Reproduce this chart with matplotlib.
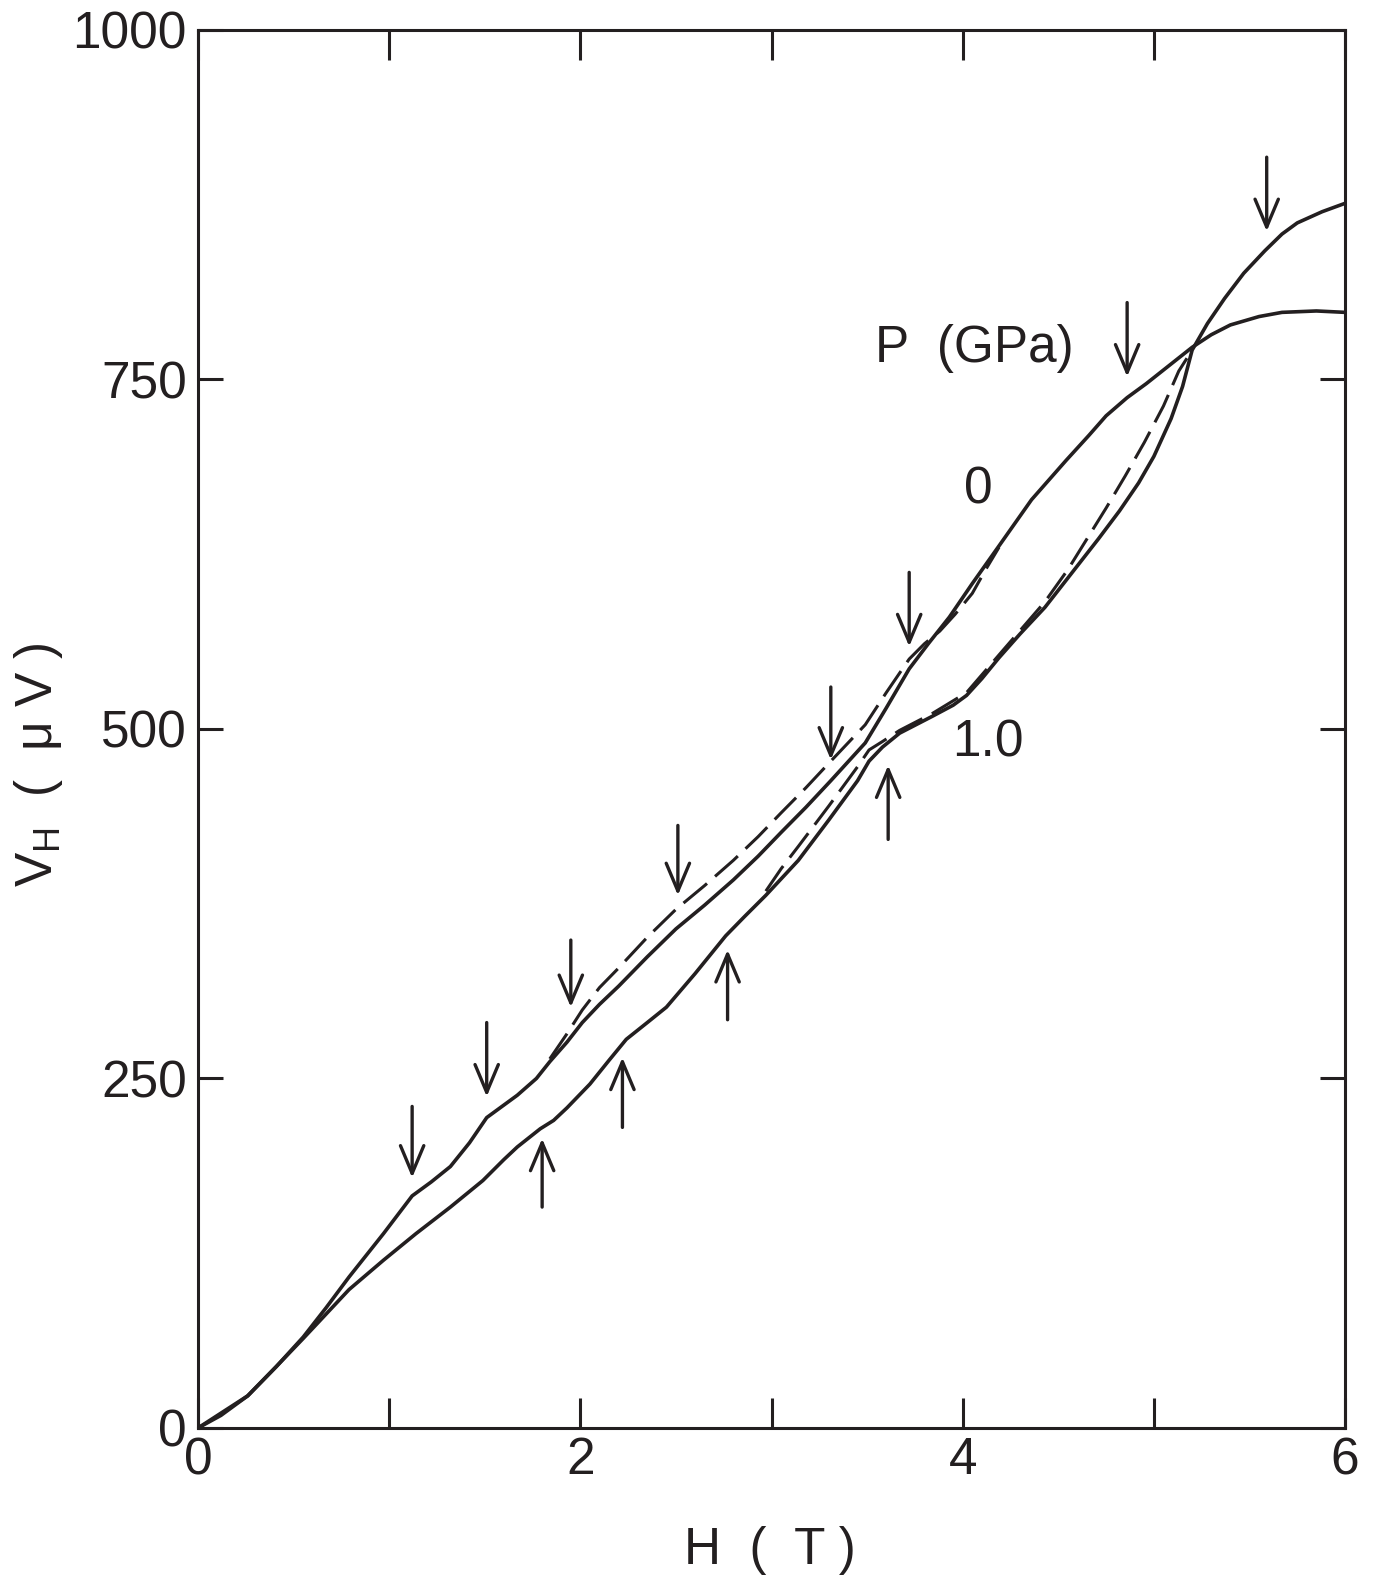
import matplotlib
matplotlib.use("Agg")
import matplotlib.pyplot as plt

plt.rcParams['font.family'] = ['Liberation Sans', 'DejaVu Sans']
plt.rcParams['mathtext.fontset'] = 'custom'
plt.rcParams['mathtext.rm'] = 'Liberation Sans'

INK = '#231f20'

# ---- data (H in tesla, V_H in microvolts) ----
H_0GPa = [0, 0.12, 0.26, 0.41, 0.55, 0.67, 0.79, 0.97, 1.12, 1.22, 1.32, 1.42, 1.51, 1.60,
          1.67, 1.77, 1.84, 1.93, 2.01, 2.10, 2.20, 2.35, 2.50, 2.65, 2.80, 2.93, 3.05, 3.18,
          3.31, 3.49, 3.60, 3.72, 3.82, 3.93, 4.05, 4.19, 4.36, 4.54, 4.66, 4.75, 4.86, 4.96,
          5.08, 5.20, 5.30, 5.40, 5.55, 5.67, 5.85, 6.0]
V_0GPa = [0, 9, 23, 44, 65, 86, 108, 139, 166, 176, 187, 204, 222, 231,
          238, 250, 262, 276, 290, 303, 316, 337, 357, 374, 392, 409, 426, 444,
          463, 490, 515, 543, 561, 580, 604, 631, 664, 692, 710, 724, 737, 747,
          760, 773, 782, 789, 795, 798, 799, 798]

H_1GPa = [0, 0.26, 0.41, 0.55, 0.79, 0.97, 1.14, 1.32, 1.49, 1.60, 1.67, 1.79, 1.86, 1.93,
          2.05, 2.15, 2.24, 2.35, 2.45, 2.60, 2.76, 2.86, 2.97, 3.14, 3.30, 3.45, 3.51, 3.58,
          3.67, 3.84, 3.95, 4.02, 4.10, 4.19, 4.30, 4.43, 4.59, 4.71, 4.82, 4.92, 5.00, 5.09,
          5.15, 5.20, 5.28, 5.37, 5.47, 5.58, 5.67, 5.75, 5.88, 6.0]
V_1GPa = [0, 23, 44, 64, 99, 120, 139, 158, 177, 192, 201, 214, 220, 229,
          246, 263, 278, 290, 301, 325, 352, 366, 381, 406, 435, 463, 477, 487,
          497, 509, 517, 524, 536, 551, 568, 587, 615, 636, 656, 676, 695, 722,
          745, 771, 790, 808, 826, 842, 854, 862, 870, 876]

H_0GPa_dash = [1.84, 1.93, 2.01, 2.10, 2.20, 2.35, 2.50, 2.65, 2.80, 2.93, 3.05, 3.18, 3.31,
               3.49, 3.60, 3.72, 3.80, 3.88, 3.96, 4.05, 4.12, 4.19]
V_0GPa_dash = [264, 282, 299, 315, 329, 351, 371, 388, 406, 423, 440, 458, 477,
               503, 526, 550, 561, 570, 582, 597, 614, 630]

H_1GPa_dash = [2.97, 3.05, 3.14, 3.30, 3.45, 3.51, 3.58, 3.67, 3.84, 4.02, 4.19, 4.43, 4.55,
               4.65, 4.75, 4.85, 4.95, 5.05, 5.13, 5.20]
V_1GPa_dash = [384, 400, 416, 445, 473, 485, 491, 499, 511, 526, 553, 591, 614,
               636, 658, 681, 705, 731, 756, 771]

# arrows: field position, tail value, tip value
down_H = [1.12, 1.51, 1.95, 2.51, 3.31, 3.72, 4.86, 5.59]
down_tail = [230, 290, 349, 431, 530, 612, 805, 909]
down_tip = [179, 237, 301, 381, 478, 559, 752, 856]

up_H = [1.80, 2.22, 2.77, 3.61]
up_tail = [158, 215, 292, 421]
up_tip = [207, 265, 342, 474]

x_ticks = [0, 1, 2, 3, 4, 5, 6]
x_ticklabels = ['0', '', '2', '', '4', '', '6']
y_ticks = [0, 250, 500, 750, 1000]
y_ticklabels = ['0', '250', '500', '750', '1000']

# ---- figure ----
fig = plt.figure(figsize=(13.79, 15.77), dpi=100)
fig.patch.set_facecolor('white')
ax = fig.add_axes([0.1436, 0.0945, 0.8318, 0.8865])
ax.set_xlim(0, 6)
ax.set_ylim(0, 1000)

lw = 2.6
ax.plot(H_0GPa, V_0GPa, color=INK, lw=lw, solid_capstyle='round', solid_joinstyle='round')
ax.plot(H_1GPa, V_1GPa, color=INK, lw=lw, solid_capstyle='round', solid_joinstyle='round')
ax.plot(H_0GPa_dash, V_0GPa_dash, color=INK, lw=2.2, dashes=(10, 3.5))
ax.plot(H_1GPa_dash, V_1GPa_dash, color=INK, lw=2.2, dashes=(10, 3.5))

aprops = dict(arrowstyle='->,head_length=1.0,head_width=0.42', lw=2.4, color=INK,
              shrinkA=0, shrinkB=0, mutation_scale=20)
for h, t0, t1 in zip(down_H, down_tail, down_tip):
    ax.annotate('', xy=(h, t1), xytext=(h, t0), arrowprops=aprops)
for h, t0, t1 in zip(up_H, up_tail, up_tip):
    ax.annotate('', xy=(h, t1), xytext=(h, t0), arrowprops=aprops)

ax.text(4.06, 772, 'P  (GPa)', fontsize=37, color=INK, ha='center', va='center')
ax.text(4.08, 671, '0', fontsize=37, color=INK, ha='center', va='center')
ax.text(4.13, 490, '1.0', fontsize=37, color=INK, ha='center', va='center')

ax.set_xticks(x_ticks)
ax.set_xticklabels(x_ticklabels)
ax.set_yticks(y_ticks)
ax.set_yticklabels(y_ticklabels)
ax.tick_params(axis='x', direction='in', length=21.6, width=2.2, top=True,
               labelsize=37, pad=6, colors=INK)
ax.tick_params(axis='y', direction='in', length=18, width=2.2, right=True,
               labelsize=37, pad=8, colors=INK)
for s in ax.spines.values():
    s.set_linewidth(2.2)
    s.set_color(INK)

fig.text(0.558, 0.0165, 'H  (  T )', fontsize=37, color=INK, ha='center', va='center')
fig.text(0.028, 0.515, r'V$_\mathregular{H}$  (  μ V )', fontsize=37, color=INK,
         ha='center', va='center', rotation=90)

fig.savefig('out.png', dpi=100, facecolor='white')
